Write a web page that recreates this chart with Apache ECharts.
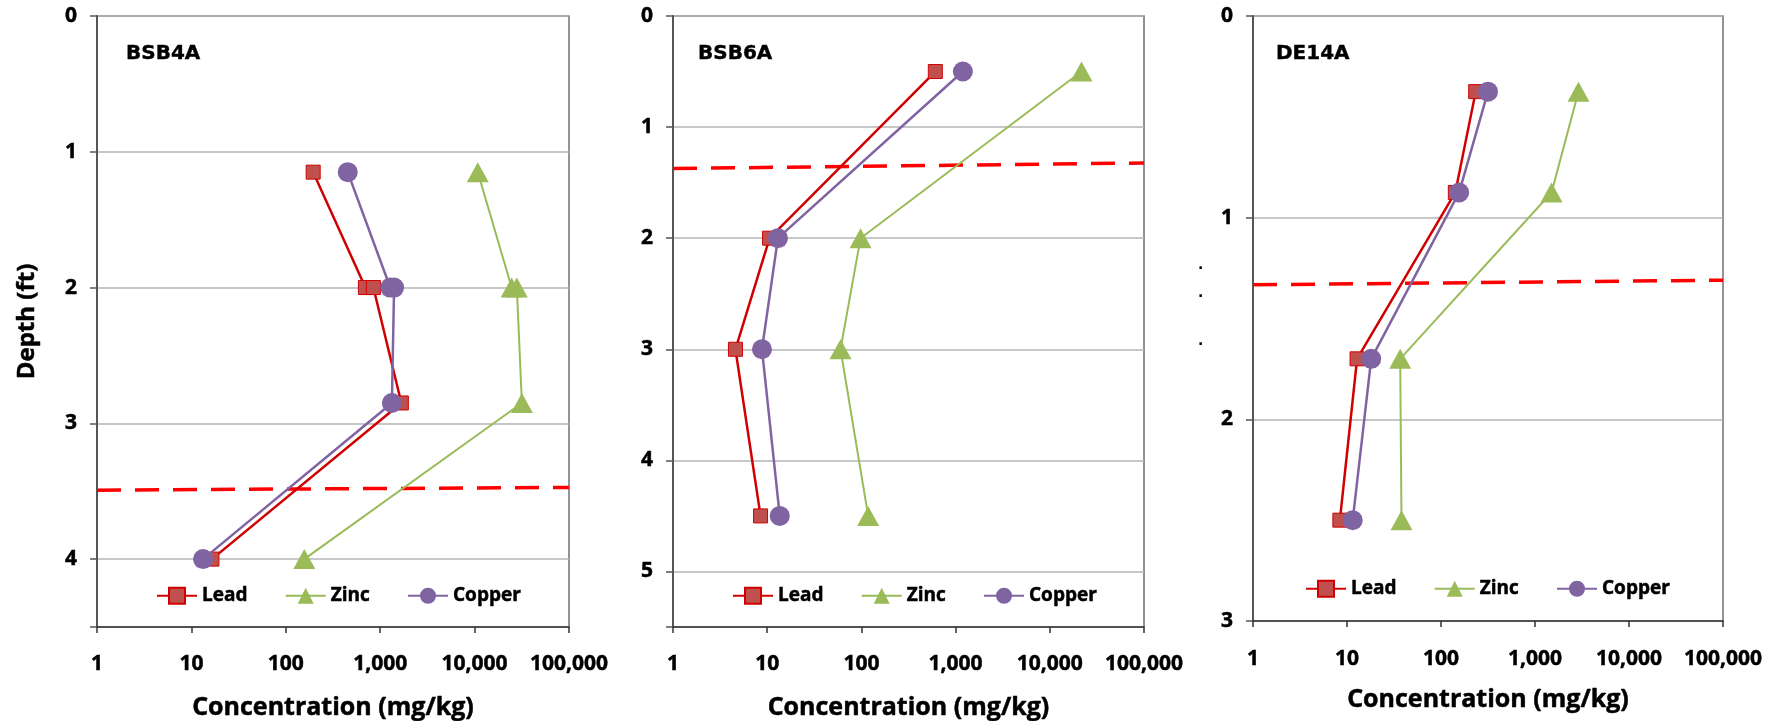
<!DOCTYPE html>
<html>
<head>
<meta charset="utf-8">
<script src="https://cdn.jsdelivr.net/npm/echarts@6/dist/echarts.min.js"></script>
<style>
html,body{margin:0;padding:0;background:#fff;}
#chart{width:1784px;height:721px;}
</style>
</head>
<body>
<div id="chart"></div>
<script>
// ---- Data ----
const seriesNames = ['Lead', 'Zinc', 'Copper'];
const panelTitles = ['BSB4A', 'BSB6A', 'DE14A'];
const xTickValues = [1, 10, 100, 1000, 10000, 100000];

// BSB4A (duplicate samples at 2 ft)
const depthBSB4A = [1.15, 2.0, 2.0, 2.85, 4.0];
const leadBSB4A = [195, 697, 847, 1675, 16.5];
const zincBSB4A = [10800, 24700, 28000, 31700, 157];
const copperBSB4A = [453, 1277, 1403, 1330, 13.3];

// BSB6A
const depthBSB6A = [0.5, 2.0, 3.0, 4.5];
const leadBSB6A = [609, 10.6, 4.6, 8.5];
const zincBSB6A = [21700, 98, 60, 118];
const copperBSB6A = [1195, 13, 8.8, 13.6];

// DE14A
const depthDE14A = [0.375, 0.875, 1.70, 2.50];
const leadDE14A = [234, 142, 12.8, 8.4];
const zincDE14A = [2900, 1500, 36.8, 38];
const copperDE14A = [316, 156, 18.1, 11.5];

// Red dashed reference lines (depth at x=1 and x=100,000)
const dashX = [1, 100000];
const dashBSB4A = [3.492, 3.472];
const dashBSB6A = [1.373, 1.323];
const dashDE14A = [1.333, 1.31];

const depthMax = [4.5, 5.5, 3];

// ---- Build ----
const pair = (xs, ys) => xs.map((x, i) => [x, ys[i]]);
const fmtComma = v => String(Math.round(v)).replace(/\B(?=(\d{3})+(?!\d))/g, ',');

const panels = [
  {depth: depthBSB4A, lead: leadBSB4A, zinc: zincBSB4A, copper: copperBSB4A, dash: dashBSB4A},
  {depth: depthBSB6A, lead: leadBSB6A, zinc: zincBSB6A, copper: copperBSB6A, dash: dashBSB6A},
  {depth: depthDE14A, lead: leadDE14A, zinc: zincDE14A, copper: copperDE14A, dash: dashDE14A}
];

const grids = [
  {left: 97, top: 16, width: 472, height: 611},
  {left: 673, top: 16, width: 471, height: 611},
  {left: 1253, top: 16, width: 470, height: 605}
];
const titleLefts = [126, 698, 1276];
const legendLefts = [156, 732, 1305];
const legendTops = [586, 586, 579];
const xLabelMargins = [27, 27, 28];
const xNameGaps = [68, 68, 66];

const boldFont = {fontFamily: 'Open Sans', fontWeight: 'bold', color: '#000', textBorderColor: '#000', textBorderWidth: 0.5};

const option = {
  animation: false,
  backgroundColor: '#fff',
  title: panelTitles.map((t, i) => ({
    text: t, left: titleLefts[i], top: 44, padding: 0,
    textStyle: {fontFamily: 'DejaVu Sans', fontWeight: 'bold', fontSize: 20, color: '#000', textBorderColor: '#000', textBorderWidth: 0.4}
  })),
  legend: panelTitles.map((t, i) => ({
    data: seriesNames, left: legendLefts[i], top: legendTops[i], padding: 0,
    itemWidth: 40, itemHeight: 20, itemGap: 37, selectedMode: false,
    textStyle: Object.assign({fontSize: 19}, boldFont)
  })),
  grid: grids.map(g => Object.assign({show: true, outerBoundsMode: 'none', containLabel: false, borderColor: '#707070', borderWidth: 1.5, backgroundColor: '#fff'}, g)),
  xAxis: grids.map((g, i) => ({
    type: 'log', logBase: 10, min: 1, max: 100000, gridIndex: i,
    axisLine: {show: true, onZero: false, lineStyle: {color: '#333', width: 1.5}},
    axisTick: {show: true, length: 6, lineStyle: {color: '#333', width: 1.5}},
    minorTick: {show: false},
    splitLine: {show: false},
    axisLabel: Object.assign({fontSize: 21, margin: xLabelMargins[i], formatter: v => fmtComma(v)}, boldFont),
    name: 'Concentration (mg/kg)', nameLocation: 'middle', nameGap: xNameGaps[i],
    nameTextStyle: Object.assign({fontSize: 25}, boldFont)
  })),
  yAxis: grids.map((g, i) => ({
    type: 'value', inverse: true, min: 0, max: depthMax[i], interval: 1, gridIndex: i,
    axisLine: {show: true, onZero: false, lineStyle: {color: '#555', width: 2}},
    axisTick: {show: true, length: 7, lineStyle: {color: '#555', width: 1.5}},
    splitLine: {show: true, lineStyle: {color: '#b4b4b4', width: 1.5}},
    axisLabel: Object.assign({fontSize: 21, margin: 20, formatter: v => Number.isInteger(v) ? String(v) : ''}, boldFont),
    name: i === 0 ? 'Depth (ft)' : '', nameLocation: 'middle', nameGap: 58, nameRotate: 90,
    nameTextStyle: Object.assign({fontSize: 24}, boldFont)
  })),
  graphic: [0, 1, 2].map(j => ({
    type: 'text', left: 1198, top: [258, 286, 334][j],
    style: {text: '.', font: 'bold 14px "DejaVu Sans"', fill: '#000'}
  })),
  series: []
};

panels.forEach((p, i) => {
  option.series.push({
    type: 'line', name: '_dash' + i, xAxisIndex: i, yAxisIndex: i,
    data: pair(dashX, p.dash), symbol: 'none', silent: true, z: 1,
    lineStyle: {color: '#ff0000', width: 3.5, type: [24, 14]}
  });
  option.series.push({
    type: 'line', name: 'Lead', xAxisIndex: i, yAxisIndex: i,
    data: pair(p.lead, p.depth), symbol: 'rect', symbolSize: 14, z: 3,
    lineStyle: {color: '#d00000', width: 2.5},
    itemStyle: {color: '#c0504d', borderColor: '#d00000', borderWidth: 1}
  });
  option.series.push({
    type: 'line', name: 'Zinc', xAxisIndex: i, yAxisIndex: i,
    data: pair(p.zinc, p.depth), symbol: 'triangle', symbolSize: [22, 20], z: 3,
    lineStyle: {color: '#9bbb59', width: 2},
    itemStyle: {color: '#9bbb59'}
  });
  option.series.push({
    type: 'line', name: 'Copper', xAxisIndex: i, yAxisIndex: i,
    data: pair(p.copper, p.depth), symbol: 'circle', symbolSize: 20, z: 4,
    lineStyle: {color: '#8064a2', width: 2.5},
    itemStyle: {color: '#8064a2'}
  });
});

const chart = echarts.init(document.getElementById('chart'), null, {renderer: 'canvas'});
chart.setOption(option);
</script>
</body>
</html>
